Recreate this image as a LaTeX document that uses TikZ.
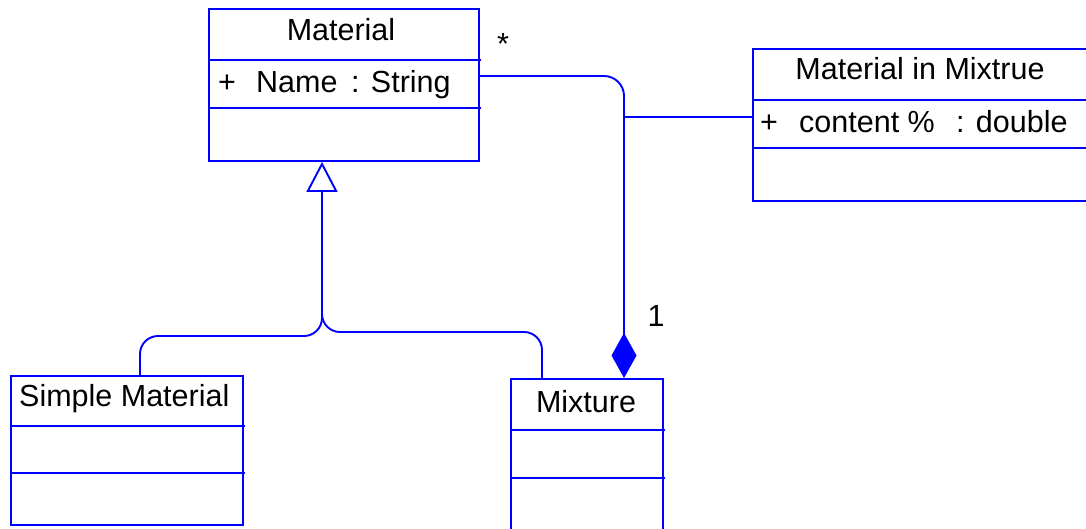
\documentclass[tikz,border=0pt]{standalone}
\usepackage{fontspec}
\setmainfont{Liberation Sans}
\usetikzlibrary{arrows.meta,calc}
\definecolor{umlblue}{RGB}{0,0,255}
\begin{document}
\begin{tikzpicture}[x=1pt,y=-1pt,
  cls/.style={draw=umlblue, line width=1.9pt, rectangle, inner sep=0pt, anchor=north west},
  sep/.style={draw=umlblue, line width=1.9pt},
  conn/.style={draw=umlblue, line width=1.9pt},
  txt/.style={inner sep=0pt, font=\fontsize{30.5}{36}\selectfont, text=black}]
\useasboundingbox (0,0) rectangle (1086,528);
\clip (0,0) rectangle (1086,528);
% Material
\node[cls, minimum width=270pt, minimum height=152pt] (mat) at (208,8) {};
\draw[sep] ([yshift=-52pt]mat.north west) -- ++(273pt,0);
\draw[sep] ([yshift=-100pt]mat.north west) -- ++(273pt,0);
\node[txt, anchor=base] (matt) at (341,40) {Material};
\node[txt, anchor=base west] (matp) at (218,92) {+};
\node[txt, anchor=base west] (matn) at (256,92) {Name};
\node[txt, anchor=base west] (mats) at (351,92) {: String};
% Material in Mixtrue
\node[cls, minimum width=340pt, minimum height=152pt] (mim) at (752,48) {};
\draw[sep] ([yshift=-52pt]mim.north west) -- ++(340pt,0);
\draw[sep] ([yshift=-100pt]mim.north west) -- ++(340pt,0);
\node[txt, anchor=base] (mimt) at (920,79) {Material in Mixtrue};
\node[txt, anchor=base west] (mimp) at (760,132) {+};
\node[txt, anchor=base west] (mimc) at (799,132) {content \%};
\node[txt, anchor=base west] (mimd) at (956,132) {: double};
% Simple Material
\node[cls, minimum width=232pt, minimum height=149pt] (sm) at (10,375) {};
\draw[sep] ([yshift=-51pt]sm.north west) -- ++(235pt,0);
\draw[sep] ([yshift=-98pt]sm.north west) -- ++(235pt,0);
\node[txt, anchor=base west] (smt) at (19,406) {Simple Material};
% Mixture
\node[cls, minimum width=152pt, minimum height=170pt] (mix) at (510,378) {};
\draw[sep] ([yshift=-52pt]mix.north west) -- ++(155pt,0);
\draw[sep] ([yshift=-100pt]mix.north west) -- ++(155pt,0);
\node[txt, anchor=base] (mixt) at (586,412) {Mixture};
% Generalization
\draw[conn, rounded corners=18pt] ([xshift=130pt]sm.north west) -- (140,336) -- (322,336) -- (322,250);
\draw[conn, rounded corners=18pt, -{Triangle[open, length=30pt, width=31pt, line width=1.9pt, fill=white]}]
  ([xshift=32pt]mix.north west) -- (542,332) -- (322,332) -- ([xshift=114pt]mat.south west);
% Composition
\draw[conn, rounded corners=20pt, -{Diamond[length=45pt, width=25pt, fill=umlblue]}]
  ([yshift=-68pt]mat.north east) -- (624,76) -- ([xshift=114pt]mix.north west);
\coordinate (j) at (624,117);
\draw[conn] (j) -- ([yshift=-69pt]mim.north west);
\node[txt] (star) at (503,44) {*};
\node[txt] (one) at (656,316) {1};
\end{tikzpicture}
\end{document}
